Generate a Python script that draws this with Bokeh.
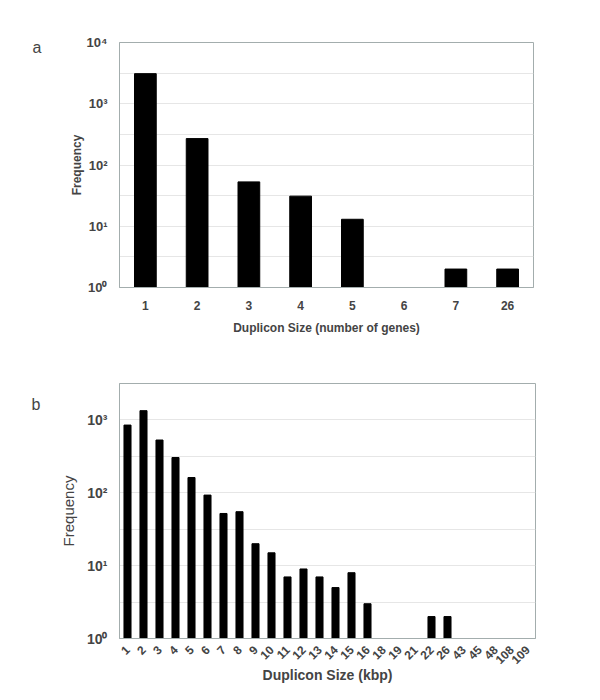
import math
from bokeh.plotting import figure
from bokeh.layouts import column
from bokeh.models import Range1d, FixedTicker, Title
from bokeh.embed import file_html
from bokeh.resources import INLINE

# ---- data (panel a) ----
genes_cats = ["1", "2", "3", "4", "5", "6", "7", "26"]
genes_freq = [3100, 270, 53, 31, 13, 1, 2, 2]

# ---- data (panel b) ----
kbp_cats = ["1", "2", "3", "4", "5", "6", "7", "8", "9", "10", "11", "12", "13",
            "14", "15", "16", "18", "19", "21", "22", "26", "43", "45", "48", "108", "109"]
kbp_freq = [850, 1340, 530, 305, 162, 93, 52, 55, 20, 15, 7, 9, 7,
            5, 8, 3, 1, 1, 1, 2, 2, 1, 1, 1, 1, 1]

decade_ticks_a = [1, 10, 100, 1000, 10000]
decade_ticks_b = [1, 10, 100, 1000]
sup = {0: "\u2070", 1: "\u00b9", 2: "\u00b2", 3: "\u00b3", 4: "\u2074"}

AXIS_COL = "#a3adad"
GRID_COL = "#e6e6e6"
FONT = "Liberation Sans"


def style(p, ticks, top_exp, tick_size):
    p.outline_line_color = AXIS_COL
    p.outline_line_width = 1
    p.xgrid.grid_line_color = None
    p.ygrid.grid_line_color = GRID_COL
    p.ygrid.ticker = FixedTicker(ticks=[10 ** (k / 2) for k in range(0, 2 * top_exp + 1)])
    ya = p.yaxis[0]
    ya.ticker = FixedTicker(ticks=ticks)
    ya.major_label_overrides = {t: "10" + sup[int(round(math.log10(t)))] for t in ticks}
    ya.axis_line_color = AXIS_COL
    ya.major_tick_line_color = None
    ya.minor_tick_line_color = None
    ya.major_label_text_font = FONT
    ya.major_label_text_font_style = "bold"
    ya.major_label_text_font_size = tick_size
    ya.major_label_standoff = 6
    ya.axis_label_text_font = FONT
    xa = p.xaxis[0]
    xa.axis_line_color = AXIS_COL
    xa.major_tick_line_color = None
    xa.major_label_text_font = FONT
    xa.major_label_text_font_style = "bold"
    xa.axis_label_text_font = FONT
    xa.axis_label_text_font_style = "bold"


# ---- panel a ----
p1 = figure(x_range=genes_cats, y_axis_type="log", y_range=Range1d(1, 10 ** 4),
            frame_width=414, frame_height=245,
            min_border_left=118, min_border_top=42, min_border_right=44, min_border_bottom=55,
            output_backend="svg", toolbar_location=None)
p1.vbar(x=genes_cats, top=genes_freq, bottom=1, width=0.42, color="black")
style(p1, decade_ticks_a, 4, "13px")
p1.xaxis.major_label_text_font_size = "12px"
p1.xaxis.major_label_standoff = 7
p1.xaxis.axis_label = "Duplicon Size (number of genes)"
p1.xaxis.axis_label_text_font_size = "12px"
p1.xaxis.axis_label_standoff = 8
p1.yaxis.axis_label = "Frequency"
p1.yaxis.axis_label_text_font_size = "12px"
p1.yaxis.axis_label_text_font_style = "bold"
p1.yaxis.axis_label_standoff = 0
p1.add_layout(Title(text="a", align="left", offset=-87, standoff=-26,
                    text_font=FONT, text_font_size="16px", text_font_style="normal"), "above")

# ---- panel b ----
p2 = figure(x_range=kbp_cats, y_axis_type="log", y_range=Range1d(1, 10 ** 3.5),
            frame_width=416, frame_height=255,
            min_border_left=119, min_border_top=41, min_border_right=40, min_border_bottom=50,
            output_backend="svg", toolbar_location=None)
p2.vbar(x=kbp_cats, top=kbp_freq, bottom=1, width=0.44, color="black")
style(p2, decade_ticks_b, 3, "14px")
p2.xaxis.major_label_text_font_size = "12px"
p2.xaxis.major_label_orientation = math.pi / 4
p2.xaxis.major_label_standoff = 3
p2.xaxis.axis_label = "Duplicon Size (kbp)"
p2.xaxis.axis_label_text_font_size = "14px"
p2.xaxis.axis_label_standoff = -4
p2.yaxis.axis_label = "Frequency"
p2.yaxis.axis_label_text_font_size = "15px"
p2.yaxis.axis_label_text_font_style = "normal"
p2.yaxis.axis_label_standoff = 7
p2.add_layout(Title(text="b", align="left", offset=-88, standoff=-58,
                    text_font=FONT, text_font_size="16px", text_font_style="normal"), "above")

layout = column(p1, p2, spacing=0)
open("out.html", "w").write(file_html(layout, INLINE))
